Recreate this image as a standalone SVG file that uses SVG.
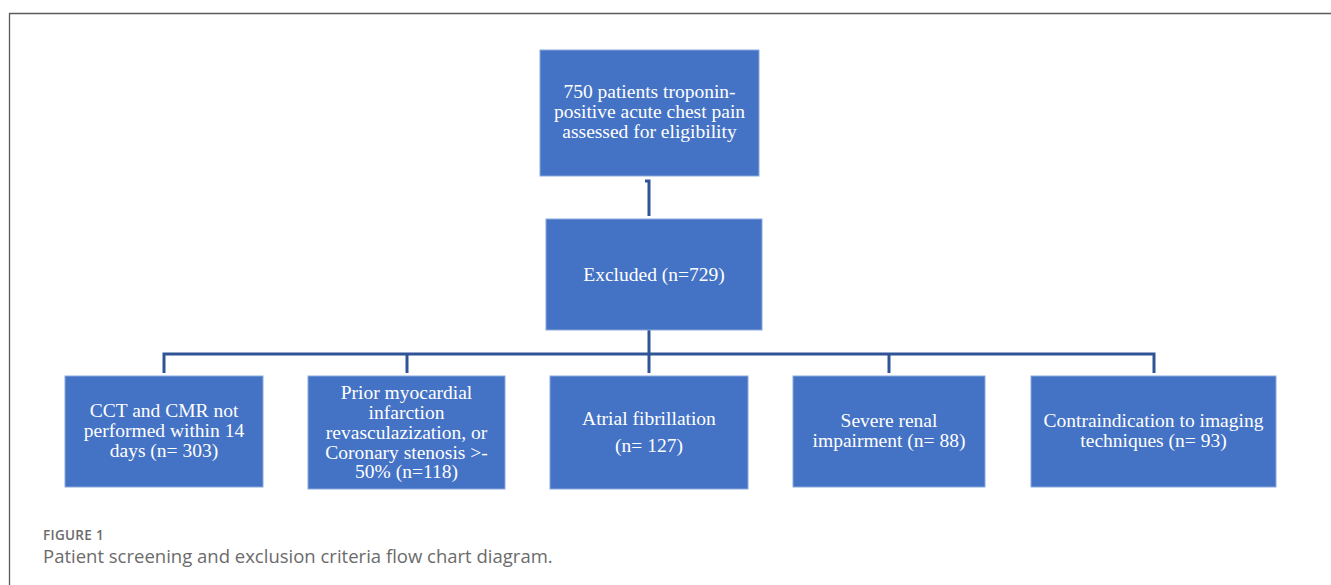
<svg xmlns="http://www.w3.org/2000/svg" width="1331" height="585" viewBox="0 0 1331 585">
<style>
.box{fill:#4472C4;stroke:#8aa9dd;stroke-width:1}
.t{font-family:"Liberation Serif","Times New Roman",serif;font-size:19.5px;fill:#ffffff;text-anchor:middle}
.conn{fill:none;stroke:#2F5597;stroke-width:3}
.frame{fill:none;stroke:#5a5a5a}
</style>
<rect width="1331" height="585" fill="#ffffff"/>
<path class="frame" d="M9.5,585 V13.5 H1331" stroke-width="1.3"/>
<g id="connectors">
<path class="conn" d="M645,181 H649 V216"/>
<path class="conn" d="M649,330 V373"/>
<path class="conn" d="M164,373 V354 H1154 V373"/>
<path class="conn" d="M407,354 V373"/>
<path class="conn" d="M889,354 V373"/>
</g>
<g id="n_top">
<rect class="box" x="540" y="50" width="219" height="126"/>
<text class="t" x="649.5" y="98">750 patients troponin-</text>
<text class="t" x="649.5" y="118">positive acute chest pain</text>
<text class="t" x="649.5" y="138">assessed for eligibility</text>
</g>
<g id="n_excluded">
<rect class="box" x="546" y="219" width="216" height="111"/>
<text class="t" x="654" y="281">Excluded (n=729)</text>
</g>
<g id="n_cct">
<rect class="box" x="65" y="376" width="198" height="111"/>
<text class="t" x="164" y="417">CCT and CMR not</text>
<text class="t" x="164" y="437">performed within 14</text>
<text class="t" x="164" y="457">days (n= 303)</text>
</g>
<g id="n_prior">
<rect class="box" x="308" y="376" width="197" height="113"/>
<text class="t" x="406.5" y="399">Prior myocardial</text>
<text class="t" x="406.5" y="419">infarction</text>
<text class="t" x="406.5" y="439">revasculazization, or</text>
<text class="t" x="406.5" y="459">Coronary stenosis &gt;-</text>
<text class="t" x="406.5" y="478">50% (n=118)</text>
</g>
<g id="n_af">
<rect class="box" x="550" y="376" width="198" height="113"/>
<text class="t" x="649" y="425">Atrial fibrillation</text>
<text class="t" x="649" y="452">(n= 127)</text>
</g>
<g id="n_renal">
<rect class="box" x="793" y="376" width="192" height="111"/>
<text class="t" x="889" y="427">Severe renal</text>
<text class="t" x="889" y="447">impairment (n= 88)</text>
</g>
<g id="n_contra">
<rect class="box" x="1031" y="376" width="245" height="111"/>
<text class="t" x="1153.5" y="427">Contraindication to imaging</text>
<text class="t" x="1153.5" y="447">techniques (n= 93)</text>
</g>
<g id="caption">
<text x="43" y="540" font-family="'Open Sans',sans-serif" font-size="13.5px" font-weight="600" fill="#6b6b6b" letter-spacing="0.3">FIGURE 1</text>
<text x="43" y="563" font-family="'Open Sans',sans-serif" font-size="18.5px" fill="#6b6b6b">Patient screening and exclusion criteria flow chart diagram.</text>
</g>
</svg>
